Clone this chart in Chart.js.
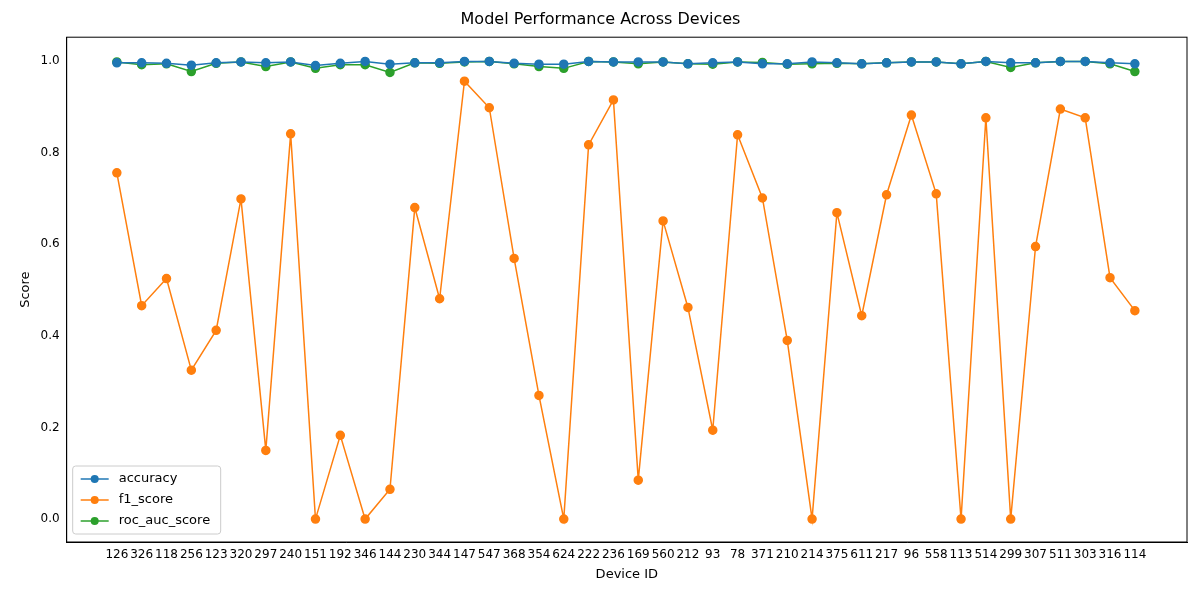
<!DOCTYPE html>
<html>
<head>
<meta charset="utf-8">
<script src="https://cdn.jsdelivr.net/npm/chart.js@4/dist/chart.umd.min.js"></script>
<style>
  body { margin: 0; background: #fff; }
  #wrap { width: 1200px; height: 600px; }
</style>
</head>
<body>
<div id="wrap"><canvas id="perfChart"></canvas></div>
<script>
const deviceIds = ["126","326","118","256","123","320","297","240","151","192","346","144","230","344","147","547","368","354","624","222",
  "236","169","560","212","93","78","371","210","214","375","611","217","96","558","113","514","299","307","511","303","316","114"];

const accuracy = [0.996,0.996,0.995,0.991,0.996,0.998,0.996,0.998,0.990,0.995,0.999,0.993,0.996,0.996,0.999,0.999,0.995,0.993,0.993,0.999,
  0.998,0.998,0.998,0.994,0.996,0.998,0.994,0.994,0.998,0.996,0.994,0.996,0.998,0.998,0.994,0.999,0.996,0.996,0.999,0.999,0.996,0.994];

const f1Score = [0.756,0.466,0.525,0.325,0.412,0.699,0.150,0.841,0.0,0.183,0.0,0.065,0.680,0.481,0.956,0.898,0.569,0.270,0.0,0.817,
  0.915,0.085,0.651,0.462,0.194,0.839,0.701,0.390,0.0,0.669,0.444,0.708,0.882,0.710,0.0,0.876,0.0,0.595,0.895,0.876,0.527,0.455];

const rocAuc = [0.998,0.992,0.994,0.977,0.995,0.998,0.988,0.998,0.984,0.992,0.992,0.975,0.996,0.995,0.998,0.999,0.994,0.988,0.984,0.999,
  0.998,0.994,0.998,0.994,0.993,0.998,0.997,0.993,0.994,0.995,0.994,0.996,0.998,0.998,0.994,0.999,0.986,0.996,0.999,0.999,0.994,0.977];

const yTicks = [0.0, 0.2, 0.4, 0.6, 0.8, 1.0];

function series(label, data, color) {
  return {
    label,
    data: data.map((v, i) => ({ x: i, y: v })),
    borderColor: color, backgroundColor: color,
    borderWidth: 1.5, pointRadius: 4, pointHoverRadius: 4,
    tension: 0
  };
}

// axes frame + legend drawn inside the plot like matplotlib
const framePlugin = {
  id: "frame",
  afterDraw(chart) {
    const { ctx, chartArea: a } = chart;
    ctx.save();
    ctx.strokeStyle = "#000";
    ctx.lineWidth = 1;
    ctx.strokeRect(a.left, a.top, a.right - a.left, a.bottom - a.top);

    const items = chart.data.datasets;
    const bx = a.left + 6, by = a.bottom - 76, bw = 148, bh = 68;
    ctx.fillStyle = "rgba(255,255,255,0.8)";
    ctx.strokeStyle = "#ccc";
    ctx.beginPath();
    ctx.roundRect(bx, by, bw, bh, 3);
    ctx.fill(); ctx.stroke();
    ctx.font = "13px 'DejaVu Sans'";
    ctx.textBaseline = "middle";
    items.forEach((d, i) => {
      const y = by + 13 + i * 21;
      ctx.strokeStyle = d.borderColor;
      ctx.lineWidth = 1.5;
      ctx.beginPath(); ctx.moveTo(bx + 8, y); ctx.lineTo(bx + 36, y); ctx.stroke();
      ctx.fillStyle = d.borderColor;
      ctx.beginPath(); ctx.arc(bx + 22, y, 4, 0, Math.PI * 2); ctx.fill();
      ctx.fillStyle = "#000";
      ctx.fillText(d.label, bx + 46, y);
    });
    ctx.restore();
  }
};

new Chart(document.getElementById("perfChart"), {
  type: "line",
  data: {
    datasets: [
      series("accuracy", accuracy, "#1f77b4"),
      series("f1_score", f1Score, "#ff7f0e"),
      series("roc_auc_score", rocAuc, "#2ca02c")
    ]
  },
  options: {
    responsive: true,
    maintainAspectRatio: false,
    animation: false,
    layout: { padding: { left: 14, right: 13, top: 4, bottom: 14 } },
    plugins: {
      legend: { display: false },
      tooltip: { enabled: false },
      title: {
        display: true, text: "Model Performance Across Devices",
        color: "#000", font: { family: "DejaVu Sans", size: 16, weight: "normal" },
        padding: { top: 6, bottom: 8 }
      }
    },
    scales: {
      x: {
        type: "linear",
        min: -2.02, max: 43.1,
        afterBuildTicks(axis) { axis.ticks = deviceIds.map((_, i) => ({ value: i })); },
        grid: { display: false, drawTicks: true, tickLength: 4, tickColor: "#000" },
        border: { color: "#000" },
        ticks: { color: "#000", autoSkip: false, maxRotation: 0, font: { family: "DejaVu Sans", size: 12 }, padding: 2,
          callback: v => deviceIds[v] },
        title: { display: true, text: "Device ID", color: "#000", font: { family: "DejaVu Sans", size: 13 }, padding: { top: 2 } }
      },
      y: {
        min: -0.05, max: 1.052,
        afterBuildTicks(axis) { axis.ticks = yTicks.map(v => ({ value: v })); },
        grid: { display: false, drawTicks: true, tickLength: 4, tickColor: "#000" },
        border: { color: "#000" },
        ticks: { color: "#000", font: { family: "DejaVu Sans", size: 12 }, callback: v => v.toFixed(1) },
        title: { display: true, text: "Score", color: "#000", font: { family: "DejaVu Sans", size: 13 } }
      }
    }
  },
  plugins: [framePlugin]
});
</script>
</body>
</html>
